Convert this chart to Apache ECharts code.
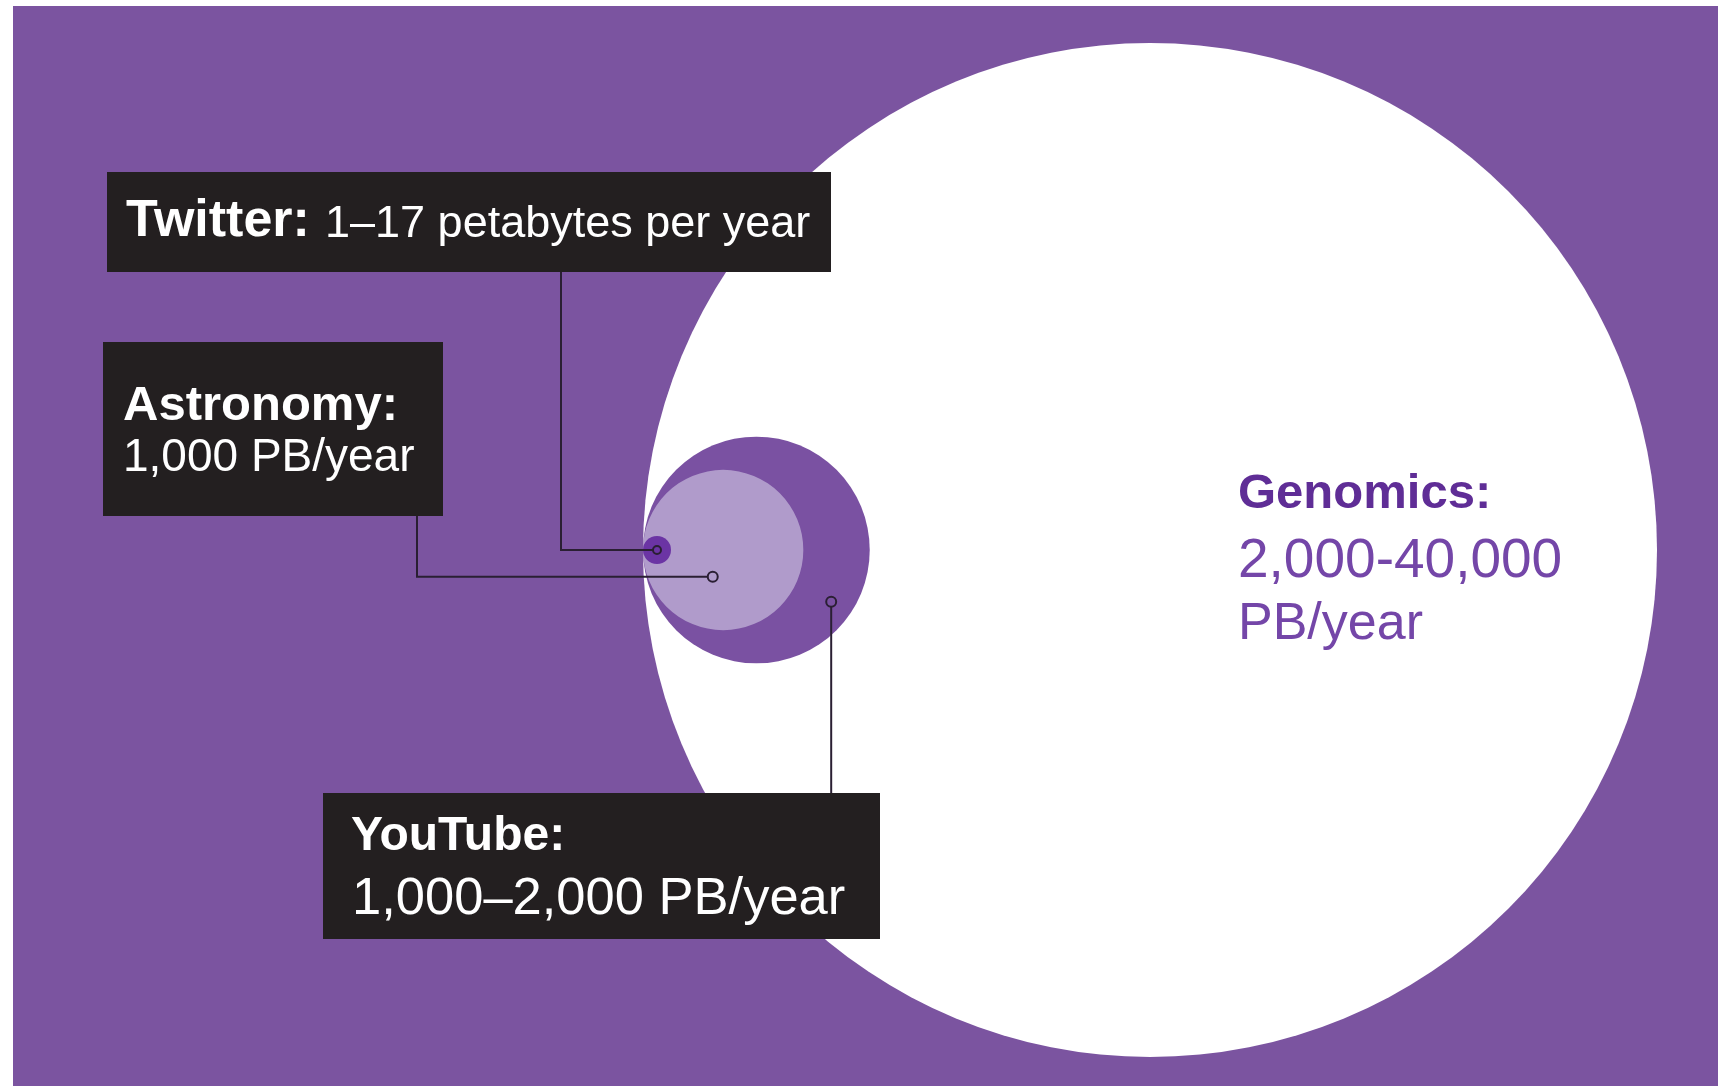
<!DOCTYPE html>
<html><head><meta charset="utf-8">
<style>
html,body{margin:0;padding:0;background:#fff;width:1718px;height:1086px;overflow:hidden}
#c{position:absolute;left:13px;top:6px;width:1705px;height:1080px}
</style>
<script src="https://cdn.jsdelivr.net/npm/echarts@6/dist/echarts.min.js"></script>
</head><body><div id="c"></div>
<script>
// ---- data ----
const categories = ['Genomics', 'YouTube', 'Astronomy', 'Twitter'];
const valueLow  = [2000, 1000, 1000, 1];      // PB per year
const valueHigh = [40000, 2000, 1000, 17];    // PB per year (circle area ~ value)
const labelTitles = ['Genomics:', 'YouTube:', 'Astronomy:', 'Twitter:'];
const labelValues = [['2,000-40,000', 'PB/year'], ['1,000\u20132,000 PB/year'], ['1,000 PB/year'], ['1\u201317 petabytes per year']];

// ---- style / layout ----
const OX = 13, OY = 6;                 // chart container offset on the page
const BG = '#7b54a0';
const FILLS = ['#ffffff', '#7a51a2', '#b09bcb', '#6b34a4'];
const MIN_R = 14;
const INK = '#2a1f33';
const BOX = '#231f20';
const FONT = '"Liberation Sans", Arial, sans-serif';

const chart = echarts.init(document.getElementById('c'), null, {renderer: 'canvas'});

const seriesData = categories.map((c, i) => ({name: c, value: [Math.sqrt(valueHigh[i]), 0, valueLow[i], valueHigh[i]]}));

chart.setOption({
  backgroundColor: BG,
  animation: false,
  grid: {left: 643 - OX, top: 550 - OY - 507, width: 1014, height: 1014},
  xAxis: {type: 'value', min: 0, max: 400, show: false},
  yAxis: {type: 'value', min: -200, max: 200, show: false},
  series: [{
    type: 'custom',
    coordinateSystem: 'cartesian2d',
    clip: false,
    data: seriesData,
    renderItem: function (params, api) {
      const t = api.coord([0, 0]);
      const e = api.coord([api.value(0), 0]);
      const r = Math.max(e[0] - t[0], MIN_R);
      return {type: 'circle', shape: {cx: t[0] + r, cy: t[1], r: r},
              style: {fill: FILLS[params.dataIndex]}};
    }
  }]
});

// circle geometry from the chart's own scale
function circle(i) {
  const t = chart.convertToPixel({gridIndex: 0}, [0, 0]);
  const e = chart.convertToPixel({gridIndex: 0}, [Math.sqrt(valueHigh[i]), 0]);
  const r = Math.max(e[0] - t[0], MIN_R);
  return {cx: t[0] + r, cy: t[1], r: r};
}
function anchor(i, fx, fy) {
  const c = circle(i);
  return [c.cx + fx * c.r, c.cy + fy * c.r];
}
const P = (x, y) => [x - OX, y - OY];

function txt(x, baseline, s, size, bold, color) {
  const p = P(x, baseline - 0.347 * size);
  return {type: 'text', x: p[0], y: p[1], z: 20,
    style: {text: s, fill: color, fontSize: size, fontWeight: bold ? 'bold' : 'normal',
            fontFamily: FONT, align: 'left', verticalAlign: 'middle'}};
}
function rect(x, y, w, h) {
  const p = P(x, y);
  return {type: 'rect', z: 15, shape: {x: p[0], y: p[1], width: w, height: h}, style: {fill: BOX}};
}
function line(points) {
  return {type: 'polyline', z: 12, shape: {points: points}, style: {stroke: INK, lineWidth: 2, fill: null}};
}
function ring(pt, r, fill) {
  return {type: 'circle', z: 13, shape: {cx: pt[0], cy: pt[1], r: r}, style: {fill: fill, stroke: INK, lineWidth: 2}};
}

const iG = 0, iY = 1, iA = 2, iT = 3;
const aT = anchor(iT, 0, 0);
const aA = anchor(iA, -0.13, 0.335);
const aY = anchor(iY, 0.66, 0.456);

const g = [];
// Twitter
g.push(line([P(561, 272), [P(561, 0)[0], aT[1]], aT]));
g.push(ring(aT, 4, FILLS[iT]));
g.push(rect(107, 172, 724, 100));
g.push(txt(126, 240, labelTitles[iT], 52, true, '#fff'));
g.push(txt(325, 240, labelValues[iT][0], 45, false, '#fff'));
// Astronomy
g.push(line([P(417, 516), [P(417, 0)[0], aA[1]], aA]));
g.push(ring(aA, 5, FILLS[iA]));
g.push(rect(103, 342, 340, 174));
g.push(txt(123, 423, labelTitles[iA], 49, true, '#fff'));
g.push(txt(123, 474, labelValues[iA][0], 46, false, '#fff'));
// YouTube
g.push(line([aY, [aY[0], P(0, 793)[1]]]));
g.push(ring(aY, 5, FILLS[iY]));
g.push(rect(323, 793, 557, 146));
g.push(txt(351, 853, labelTitles[iY], 48, true, '#fff'));
g.push(txt(352, 918, labelValues[iY][0], 52.5, false, '#fff'));
// Genomics
g.push(txt(1238, 511, labelTitles[iG], 49, true, '#5f2d96'));
g.push(txt(1238, 581, labelValues[iG][0], 55, false, '#7446a8'));
g.push(txt(1238, 643, labelValues[iG][1], 52, false, '#7446a8'));

chart.setOption({graphic: {elements: g}});
</script>
</body></html>
